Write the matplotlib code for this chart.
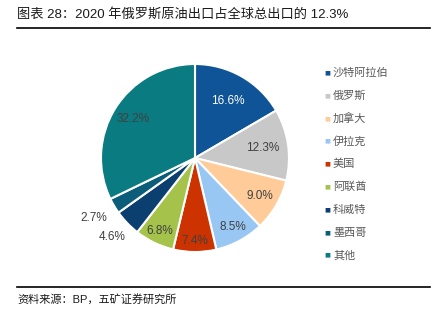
import numpy as np
import matplotlib.pyplot as plt

plt.rcParams['font.family'] = ['Liberation Sans', 'Noto Sans CJK SC', 'DejaVu Sans']

countries = ['沙特阿拉伯', '俄罗斯', '加拿大', '伊拉克', '美国', '阿联酋', '科威特', '墨西哥', '其他']
shares = [16.6, 12.3, 9.0, 8.5, 7.4, 6.8, 4.6, 2.7, 32.2]

colors = ['#0F5496', '#C8C8C8', '#FFCC99', '#99C7F4', '#CC3300',
          '#A5C24B', '#0B3F70', '#0B5D7A', '#0A7B80']
label_colors = ['white', '#404040', '#404040', '#404040', '#404040',
                '#404040', '#404040', '#404040', '#404040']
label_r = [0.70, 0.73, 0.80, 0.84, 0.88, 0.86, 1.22, 1.25, 0.78]

fig = plt.figure(figsize=(4.41, 3.25), dpi=100)

# title and rules
fig.text(17 / 441, 1 - 14 / 325, '图表 28：2020 年俄罗斯原油出口占全球总出口的 12.3%',
         fontsize=9.5, va='center', ha='left', color='#1a1a1a')
fig.add_artist(plt.Line2D([17 / 441, 430 / 441], [1 - 28 / 325] * 2, color='black', lw=1.2))
fig.add_artist(plt.Line2D([17 / 441, 430 / 441], [1 - 287 / 325] * 2, color='black', lw=1.2))
fig.text(17 / 441, 1 - 299 / 325, '资料来源：BP，五矿证券研究所',
         fontsize=8, va='center', ha='left', color='#1a1a1a')

# pie
cx, cy, r = 195, 158, 94
ax = fig.add_axes([(cx - r) / 441, 1 - (cy + r) / 325, 2 * r / 441, 2 * r / 325])
wedges, _ = ax.pie(shares, colors=colors, startangle=90, counterclock=False,
                   wedgeprops=dict(edgecolor='white', linewidth=1.5))
ax.set_xlim(-1, 1)
ax.set_ylim(-1, 1)
ax.set_aspect('auto')

for w, v, c, rr in zip(wedges, shares, label_colors, label_r):
    ang = np.deg2rad((w.theta1 + w.theta2) / 2)
    x, y = rr * np.cos(ang), rr * np.sin(ang)
    ax.text(x, y, f'{v:.1f}%', ha='center', va='center', fontsize=8.5, color=c,
            clip_on=False)

# legend
for i, (name, c) in enumerate(zip(countries, colors)):
    y = 1 - (73 + i * 22.8) / 325
    fig.text(327 / 441, y, '■', fontsize=4.5, color=c, ha='center', va='center',
             family=['DejaVu Sans'])
    fig.text(333 / 441, y, name, fontsize=8, color='#595959', ha='left', va='center')

fig.savefig('out.png', dpi=100)
